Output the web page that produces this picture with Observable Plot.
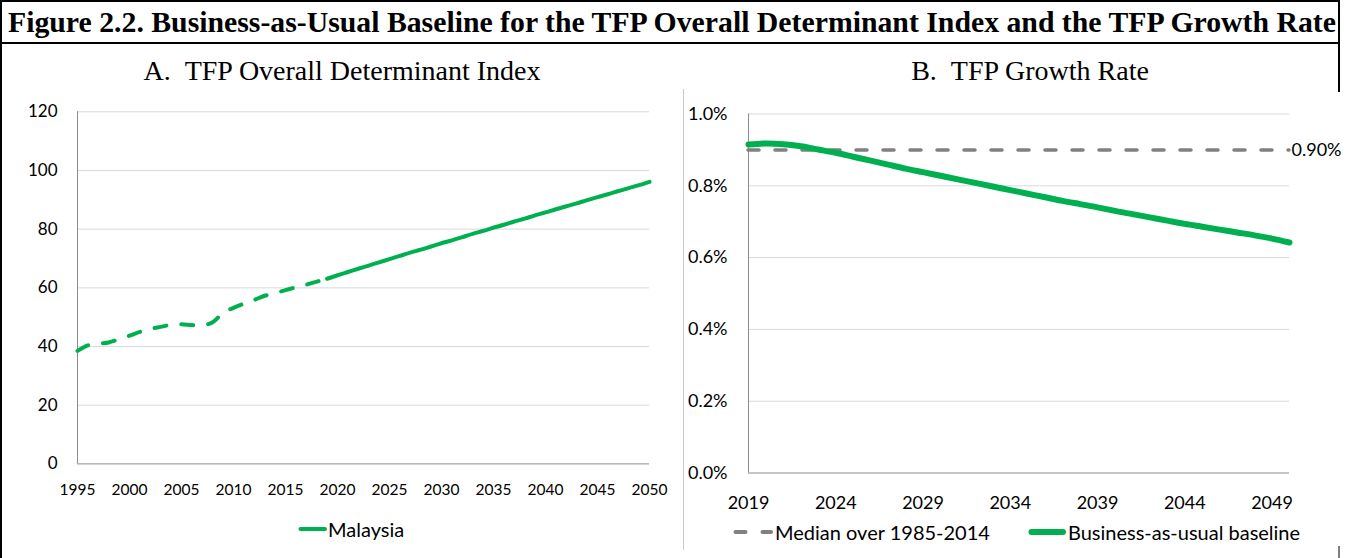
<!DOCTYPE html>
<html><head><meta charset="utf-8">
<script src="https://cdn.jsdelivr.net/npm/d3@7"></script>
<script src="https://cdn.jsdelivr.net/npm/@observablehq/plot@0.6"></script>
<style>
html,body{margin:0;padding:0;background:#fff;}
#fig{position:relative;width:1345px;height:558px;overflow:hidden;background:#fff;}
</style></head>
<body><div id="fig"></div>
<script>
// ---------- DATA ----------
const titleText = "Figure 2.2. Business-as-Usual Baseline for the TFP Overall Determinant Index and the TFP Growth Rate";
const subtitleA = "A.\u00a0\u00a0TFP Overall Determinant Index";
const subtitleB = "B.\u00a0\u00a0TFP Growth Rate";

const yearsA = [1995,1996,1997,1998,1999,2000,2001,2002,2003,2004,2005,2006,2007,2008,2009,2010,2011,2012,2013,2014,2015,2016,2017,2018,2019,2020,2021,2022,2023,2024,2025,2026,2027,2028,2029,2030,2031,2032,2033,2034,2035,2036,2037,2038,2039,2040,2041,2042,2043,2044,2045,2046,2047,2048,2049,2050];
const indexA = [38.5,40.4,41.0,41.4,42.5,43.7,45.0,46.0,46.7,47.4,47.6,47.3,47.2,48.3,51.5,53.2,54.6,55.9,57.3,58.2,59.2,60.2,61.1,62.1,63.1,64.3,65.4,66.5,67.6,68.7,69.8,70.9,72.0,73.0,74.1,75.2,76.2,77.3,78.4,79.4,80.5,81.5,82.6,83.6,84.7,85.7,86.8,87.8,88.8,89.9,90.9,91.9,93.0,94.0,95.0,96.1];
const historyEndA = 2019;
const seriesA = "Malaysia";
const xTicksA = [1995,2000,2005,2010,2015,2020,2025,2030,2035,2040,2045,2050];
const yTicksA = [0,20,40,60,80,100,120];

const yearsB = [2019,2020,2021,2022,2023,2024,2025,2026,2027,2028,2029,2030,2031,2032,2033,2034,2035,2036,2037,2038,2039,2040,2041,2042,2043,2044,2045,2046,2047,2048,2049,2050];
const growthB = [0.915,0.918,0.916,0.910,0.901,0.892,0.881,0.870,0.859,0.848,0.838,0.828,0.818,0.808,0.798,0.788,0.778,0.768,0.758,0.749,0.740,0.730,0.721,0.712,0.703,0.694,0.686,0.678,0.670,0.662,0.653,0.642];
const medianB = 0.90;
const seriesB1 = "Median over 1985-2014";
const seriesB2 = "Business-as-usual baseline";
const xTicksB = [2019,2024,2029,2034,2039,2044,2049];
const yTicksB = [0,0.2,0.4,0.6,0.8,1.0];

// ---------- STYLE ----------
const GREEN = "#00B050", GREY = "#808080", GRID = "#d9d9d9", AXIS = "#8c8c8c";
const SANS = "Lato, 'Open Sans', sans-serif";
const SERIF = "'Liberation Serif', 'Times New Roman', serif";

const fig = document.getElementById("fig");
const NS = "http://www.w3.org/2000/svg";
function place(el, left, top) { el.style.position = "absolute"; el.style.left = left + "px"; el.style.top = top + "px"; fig.appendChild(el); return el; }

// frame + title (overlay svg)
const frame = document.createElementNS(NS, "svg");
frame.setAttribute("width", 1345); frame.setAttribute("height", 558);
frame.innerHTML = `
  <line x1="1" y1="0" x2="1" y2="558" stroke="#000" stroke-width="2"/>
  <line x1="0" y1="1" x2="1340" y2="1" stroke="#000" stroke-width="2"/>
  <line x1="0" y1="43" x2="1340" y2="43" stroke="#000" stroke-width="2"/>
  <line x1="1339" y1="0" x2="1339" y2="92" stroke="#000" stroke-width="2"/>
  <line x1="1339" y1="546" x2="1339" y2="558" stroke="#000" stroke-width="1"/>
  <line x1="683.5" y1="89" x2="683.5" y2="550" stroke="#c8c8c8" stroke-width="1"/>
`;
const t = document.createElementNS(NS, "text");
t.setAttribute("x", 8); t.setAttribute("y", 32);
t.setAttribute("textLength", 1328); t.setAttribute("lengthAdjust", "spacingAndGlyphs");
t.setAttribute("font-family", SERIF); t.setAttribute("font-weight", "bold"); t.setAttribute("font-size", 29.5);
t.textContent = titleText; frame.appendChild(t);
function sub(text, cx, y, size) {
  const s = document.createElementNS(NS, "text");
  s.setAttribute("x", cx); s.setAttribute("y", y); s.setAttribute("text-anchor", "middle");
  s.setAttribute("font-family", SERIF); s.setAttribute("font-size", size);
  s.textContent = text; frame.appendChild(s);
}
sub(subtitleA, 342, 80, 28);
sub(subtitleB, 1030, 80, 28);
frame.style.pointerEvents = "none";

// ---------- PANEL A ----------
const dataA = yearsA.map((y, i) => ({year: y, value: indexA[i]}));
const plotA = Plot.plot({
  width: 680, height: 430,
  marginLeft: 77, marginRight: 31, marginTop: 21.3, marginBottom: 56.6,
  x: {domain: [1995, 2050]},
  y: {domain: [0, 120]},
  style: {fontFamily: SANS, color: "#000", background: "transparent", overflow: "visible"},
  marks: [
    Plot.gridY(yTicksA.filter(d => d > 0), {stroke: GRID, strokeOpacity: 1, strokeWidth: 1}),
    Plot.ruleY([0], {stroke: AXIS, strokeWidth: 1}),
    Plot.ruleX([xTicksA[0]], {stroke: AXIS, strokeWidth: 1}),
    Plot.axisX(xTicksA, {tickSize: 0, tickPadding: 20, fontSize: 15.5, tickFormat: d => String(d), label: null, fill: "#000"}),
    Plot.axisY(yTicksA, {tickSize: 0, tickPadding: 20, fontSize: 17, label: null, fill: "#000"}),
    Plot.line(dataA.filter(d => d.year <= historyEndA), {x: "year", y: "value", stroke: GREEN, strokeWidth: 4, strokeDasharray: "12,15", strokeLinecap: "round", curve: "catmull-rom"}),
    Plot.line(dataA.filter(d => d.year >= historyEndA), {x: "year", y: "value", stroke: GREEN, strokeWidth: 4, curve: "catmull-rom"})
  ]
});
place(plotA, 0, 90);

// ---------- PANEL B ----------
const dataB = yearsB.map((y, i) => ({year: y, value: growthB[i]}));
const plotB = Plot.plot({
  width: 661, height: 420,
  marginLeft: 64, marginRight: 56, marginTop: 23.5, marginBottom: 37.5,
  x: {domain: [yearsB[0], yearsB[yearsB.length - 1]]},
  y: {domain: [0, 1.0]},
  style: {fontFamily: SANS, color: "#000", background: "transparent", overflow: "visible"},
  marks: [
    Plot.gridY(yTicksB.filter(d => d > 0), {stroke: GRID, strokeOpacity: 1, strokeWidth: 1}),
    Plot.ruleY([0], {stroke: AXIS, strokeWidth: 1}),
    Plot.ruleX([yearsB[0]], {y1: 0, y2: yTicksB[yTicksB.length - 1], stroke: AXIS, strokeWidth: 1}),
    Plot.axisX(xTicksB, {tickSize: 0, tickPadding: 23, fontSize: 18, tickFormat: d => String(d), label: null, fill: "#000"}),
    Plot.axisY(yTicksB, {tickSize: 0, tickPadding: 21, fontSize: 18, tickFormat: d => d.toFixed(1) + "%", label: null, fill: "#000"}),
    Plot.ruleY([medianB], {x1: yearsB[0], x2: yearsB[yearsB.length - 1], stroke: GREY, strokeWidth: 3.5, strokeDasharray: "11,16", strokeLinecap: "round"}),
    Plot.line(dataB, {x: "year", y: "value", stroke: GREEN, strokeWidth: 6, curve: "catmull-rom"}),
    Plot.text([medianB], {x: yearsB[yearsB.length - 1], y: d => d, text: d => d.toFixed(2) + "%", dx: 2, textAnchor: "start", fontSize: 18, fill: "#000"})
  ]
});
place(plotB, 684, 90);

fig.appendChild(frame);
frame.style.position = "absolute"; frame.style.left = "0px"; frame.style.top = "0px";

// ---------- LEGENDS ----------
function legend(top, left) {
  const d = document.createElement("div");
  d.style.cssText = `position:absolute;top:${top}px;left:${left}px;height:24px;display:flex;align-items:center;font-family:${SANS};font-size:20px;color:#000;white-space:nowrap;`;
  return d;
}
function swatch(color, width, dash, w) {
  const s = document.createElementNS(NS, "svg");
  s.setAttribute("width", w); s.setAttribute("height", 10);
  s.style.display = "block";
  s.innerHTML = `<line x1="${width/2+0.5}" y1="5" x2="${w - width/2}" y2="5" stroke="${color}" stroke-width="${width}" stroke-linecap="round" ${dash ? `stroke-dasharray="${dash}"` : ""}/>`;
  return s;
}
const legA = legend(517, 298);
legA.appendChild(swatch(GREEN, 4, null, 29));
const la = document.createElement("span"); la.textContent = seriesA; la.style.marginLeft = "1px"; legA.appendChild(la);
fig.appendChild(legA);

const legB = legend(520, 733);
legB.appendChild(swatch(GREY, 4, "10,17", 40));
const lb1 = document.createElement("span"); lb1.textContent = seriesB1; lb1.style.marginLeft = "2px"; legB.appendChild(lb1);
const sw2 = swatch(GREEN, 6, null, 38); sw2.style.marginLeft = "38px"; legB.appendChild(sw2);
const lb2 = document.createElement("span"); lb2.textContent = seriesB2; lb2.style.marginLeft = "2px"; legB.appendChild(lb2);
fig.appendChild(legB);
</script>
</body></html>
